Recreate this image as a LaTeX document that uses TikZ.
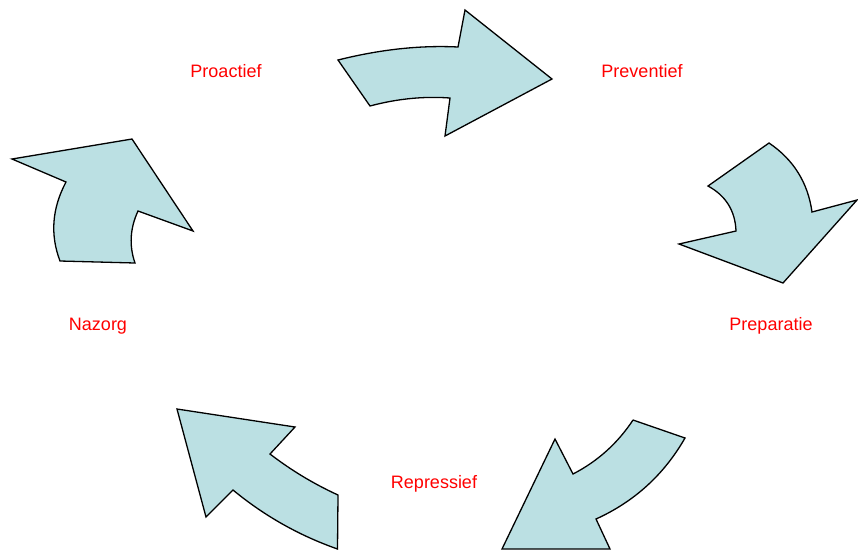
\documentclass[tikz,border=0pt]{standalone}
\usepackage{fontspec}
\setmainfont{Liberation Sans}
\usetikzlibrary{positioning}
\definecolor{cyclefill}{HTML}{BBE0E3}
\definecolor{phasered}{HTML}{FF0000}

\begin{document}
\begin{tikzpicture}[x=1pt,y=-1pt,
    arrowshape/.style={fill=cyclefill,draw=black,line width=1.3pt},
    phaselabel/.style={text=phasered,font=\fontsize{18}{21}\selectfont}]
  \useasboundingbox (0,0) rectangle (858,550);
  % labels
  \node[phaselabel] (proactief) at (226,71) {Proactief};
  \node[phaselabel] (preventief) at (642,71) {Preventief};
  \node[phaselabel] (preparatie) at (771,326) {Preparatie};
  \node[phaselabel] (repressief) at (434,484) {Repressief};
  \node[phaselabel] (nazorg) at (98,326) {Nazorg};
  % top arrow
  \draw[arrowshape] (338,60) .. controls (378,50) and (418,45) .. (458,47)
    -- (465,10) -- (552,79) -- (445,136) -- (450,98)
    .. controls (423,96) and (396,99) .. (370,106) -- cycle;
  % right arrow
  \draw[arrowshape] (769,143) .. controls (793.5,159.6) and (807.9,182.6) .. (812,212)
    -- (857,200) -- (783,283) -- (679,244) -- (736,231)
    .. controls (735.2,210.7) and (725.8,195.7) .. (708,186) -- cycle;
  % bottom right arrow
  \draw[arrowshape] (633,420) -- (685,438)
    .. controls (664,474.6) and (634.4,501.6) .. (596,519)
    -- (610,549) -- (502,549) -- (555,439) -- (573,474)
    .. controls (597.7,461.2) and (617.7,443.2) .. (633,420);
  % bottom left arrow
  \draw[arrowshape] (270,454) .. controls (291.2,470.3) and (313.8,483.9) .. (338,495)
    -- (337.5,549)
    .. controls (298.9,535.4) and (264.3,515.8) .. (233,490)
    -- (206,517) -- (177,409) -- (295,427) -- cycle;
  % left arrow
  \draw[arrowshape] (60,261) .. controls (50,234.7) and (52,208.3) .. (66,182)
    -- (12,159) -- (132,139) -- (193,231) -- (138,211)
    .. controls (130,228.3) and (129,245.7) .. (135,263) -- cycle;
\end{tikzpicture}
\end{document}
